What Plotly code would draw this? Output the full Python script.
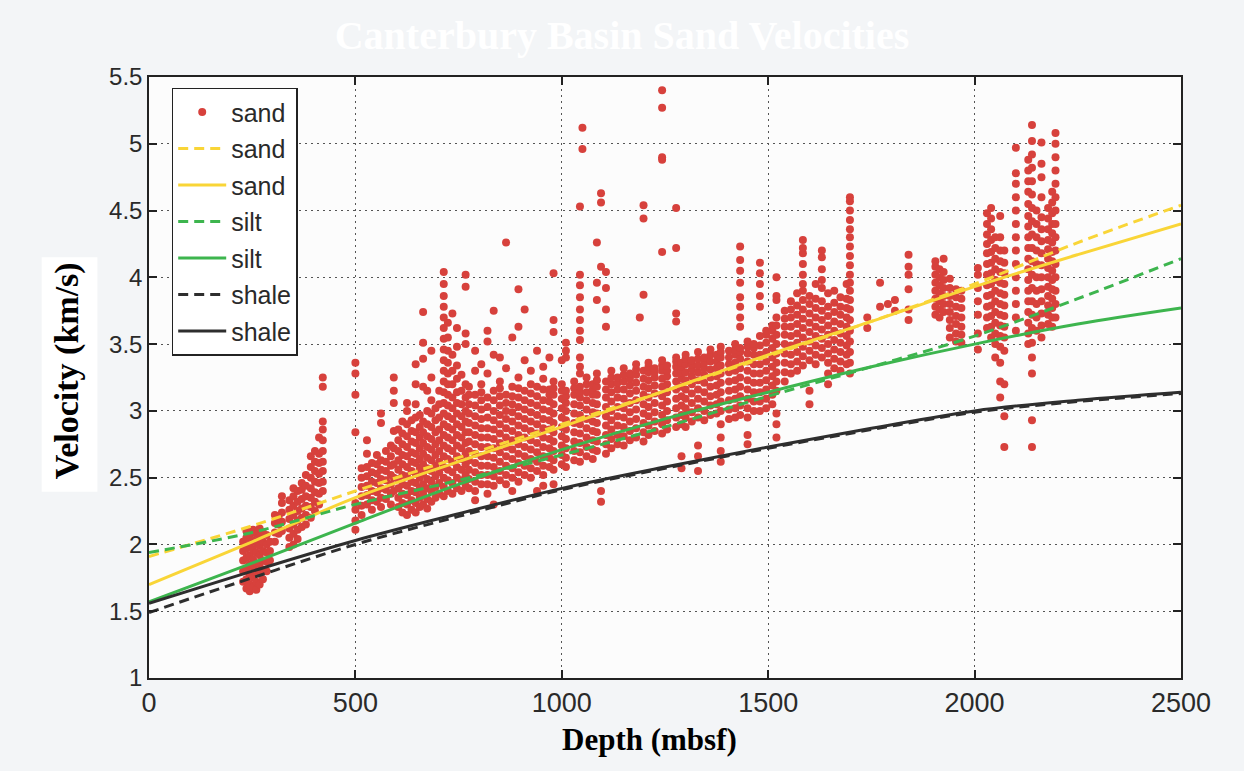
import plotly.graph_objects as go

# ---------------- data ----------------
# sand velocity measurements: (depth mbsf, [velocities km/s]) columns
sand_shallow = [
    (228, [1.72, 1.80, 1.88, 1.95, 2.02]),
    (236, [1.67, 1.74, 1.82, 1.90, 1.97, 2.05, 2.10]),
    (244, [1.65, 1.70, 1.77, 1.85, 1.92, 2.00, 2.07]),
    (252, [1.68, 1.75, 1.83, 1.89, 1.96, 2.03, 2.11]),
    (260, [1.66, 1.72, 1.79, 1.86, 1.94, 2.01, 2.08]),
    (268, [1.70, 1.78, 1.85, 1.92, 1.99, 2.06, 2.12]),
    (276, [1.74, 1.81, 1.88, 1.95, 2.02, 2.09]),
    (285, [1.80, 1.87, 1.94, 2.00, 2.07]),
    (293, [1.88, 1.95, 2.02]),
    (305, [2.02, 2.09, 2.16, 2.22]),
    (314, [2.08, 2.15, 2.21]),
    (322, [2.10, 2.17, 2.24, 2.31, 2.36]),
    (340, [1.98, 2.05, 2.12, 2.19, 2.26, 2.33]),
    (350, [2.00, 2.08, 2.15, 2.22, 2.29, 2.36, 2.42]),
    (360, [2.04, 2.11, 2.18, 2.25, 2.32, 2.40]),
    (370, [2.13, 2.20, 2.27, 2.34, 2.41, 2.46]),
    (380, [2.15, 2.22, 2.29, 2.36, 2.44, 2.52]),
    (392, [2.20, 2.28, 2.35, 2.42, 2.50, 2.58, 2.66]),
    (402, [2.25, 2.32, 2.39, 2.47, 2.55, 2.62, 2.70]),
    (412, [2.30, 2.38, 2.46, 2.53, 2.61, 2.68, 2.80]),
    (421, [2.40, 2.47, 2.55, 2.62, 2.70, 2.78, 2.86, 2.92, 3.18, 3.25]),
    (500, [2.11, 2.18, 2.26, 2.31, 2.84, 3.12, 3.28, 3.36]),
    (515, [2.22, 2.29, 2.36, 2.43, 2.50, 2.57]),
    (528, [2.30, 2.37, 2.44, 2.51, 2.58, 2.68, 2.78]),
    (540, [2.26, 2.33, 2.40, 2.47, 2.54, 2.61]),
    (552, [2.32, 2.39, 2.46, 2.53, 2.60, 2.67]),
    (562, [2.28, 2.35, 2.42, 2.49, 2.56, 2.63, 2.91, 2.98]),
    (574, [2.34, 2.41, 2.48, 2.55, 2.62, 2.70]),
    (586, [2.30, 2.38, 2.45, 2.52, 2.59, 2.66, 2.74]),
    (593, [2.40, 2.50, 2.60, 2.72, 2.85, 3.06, 3.15, 3.25]),
    (604, [2.28, 2.35, 2.42, 2.49, 2.56, 2.63, 2.70, 2.78, 2.86]),
    (614, [2.24, 2.31, 2.38, 2.45, 2.52, 2.60, 2.67, 2.75, 2.83, 2.92]),
    (625, [2.22, 2.30, 2.37, 2.44, 2.51, 2.58, 2.66, 2.73, 2.81, 2.90, 3.00, 3.06]),
    (636, [2.26, 2.33, 2.40, 2.47, 2.55, 2.62, 2.69, 2.77, 2.85, 2.93]),
    (646, [2.24, 2.31, 2.39, 2.46, 2.53, 2.61, 2.68, 2.76, 2.84, 2.95, 3.05, 3.20, 3.35]),
    (656, [2.28, 2.35, 2.42, 2.50, 2.57, 2.64, 2.72, 2.80, 2.88, 2.97]),
    (664, [2.30, 2.38, 2.45, 2.53, 2.60, 2.68, 2.76, 2.84, 2.92, 3.18, 3.39, 3.51, 3.74]),
    (674, [2.27, 2.34, 2.42, 2.49, 2.57, 2.65, 2.73, 2.81, 2.90, 3.00, 3.15]),
    (684, [2.32, 2.40, 2.47, 2.55, 2.63, 2.71, 2.79, 2.88, 2.98, 3.08, 3.25, 3.45]),
    (694, [2.35, 2.43, 2.51, 2.59, 2.67, 2.75, 2.84, 2.93, 3.02]),
    (703, [2.38, 2.46, 2.54, 2.62, 2.70, 2.78, 2.86, 2.95, 3.05, 3.15]),
    (714, [2.36, 2.43, 2.50, 2.58, 2.66, 2.74, 2.82, 2.90, 2.98, 3.06, 3.14, 3.22,
           3.30, 3.38, 3.46, 3.54, 3.62, 3.70, 3.78, 3.86, 3.95, 4.04]),
    (724, [2.40, 2.48, 2.56, 2.64, 2.72, 2.80, 2.88, 2.96, 3.04, 3.12, 3.20, 3.28,
           3.36, 3.45, 3.55, 3.66]),
    (735, [2.38, 2.46, 2.54, 2.62, 2.70, 2.78, 2.86, 2.94, 3.02, 3.10, 3.20, 3.30, 3.42, 3.73]),
    (746, [2.42, 2.50, 2.58, 2.66, 2.74, 2.82, 2.90, 2.98, 3.06, 3.14, 3.24, 3.34, 3.48, 3.62]),
    (757, [2.40, 2.48, 2.56, 2.64, 2.72, 2.80, 2.88, 2.96, 3.05, 3.15, 3.27]),
    (767, [2.44, 2.52, 2.60, 2.68, 2.76, 2.84, 2.92, 3.00, 3.10, 3.20, 3.50, 3.58, 3.93, 4.02]),
]

sand_band = [
    (775, [2.42, 2.49, 2.56, 2.63, 2.70, 2.77, 2.84, 2.91, 2.98, 3.05, 3.12, 3.18]),
    (790, [2.33, 2.40, 2.47, 2.54, 2.61, 2.68, 2.75, 2.82, 2.89, 2.96, 3.04, 3.12, 3.30, 3.45]),
    (805, [2.45, 2.52, 2.59, 2.66, 2.73, 2.80, 2.87, 2.94, 3.01, 3.08, 3.14, 3.20, 3.35]),
    (820, [2.38, 2.45, 2.52, 2.59, 2.66, 2.73, 2.80, 2.87, 2.95, 3.03, 3.10, 3.28, 3.52, 3.60]),
    (835, [2.30, 2.44, 2.51, 2.58, 2.65, 2.72, 2.79, 2.86, 2.93, 3.00, 3.08, 3.15, 3.42, 3.75]),
    (850, [2.48, 2.55, 2.62, 2.69, 2.76, 2.83, 2.90, 2.97, 3.04, 3.11, 3.17, 3.22, 3.40]),
    (865, [2.45, 2.52, 2.59, 2.66, 2.73, 2.80, 2.87, 2.94, 3.00, 3.06, 3.12, 3.32, 4.26]),
    (880, [2.40, 2.50, 2.57, 2.64, 2.71, 2.78, 2.85, 2.92, 2.99, 3.05, 3.11, 3.18, 3.55]),
    (895, [2.47, 2.54, 2.61, 2.68, 2.75, 2.82, 2.89, 2.96, 3.03, 3.10, 3.17, 3.25, 3.63, 3.91]),
    (910, [2.52, 2.59, 2.66, 2.73, 2.80, 2.87, 2.94, 3.01, 3.08, 3.15, 3.38, 3.76]),
    (925, [2.50, 2.57, 2.64, 2.71, 2.78, 2.85, 2.92, 2.99, 3.06, 3.13, 3.20, 3.30]),
    (940, [2.40, 2.55, 2.62, 2.69, 2.76, 2.83, 2.90, 2.97, 3.04, 3.11, 3.18, 3.45]),
    (955, [2.44, 2.52, 2.59, 2.66, 2.73, 2.80, 2.87, 2.94, 3.01, 3.08, 3.16, 3.24, 3.33]),
    (970, [2.58, 2.65, 2.72, 2.79, 2.86, 2.93, 3.00, 3.07, 3.12, 3.16, 3.40]),
    (980, [2.45, 2.56, 2.63, 2.70, 2.77, 2.84, 2.91, 2.98, 3.05, 3.12, 3.17, 3.22, 3.59, 3.68, 4.03]),
    (1000, [2.60, 2.67, 2.74, 2.81, 2.88, 2.95, 3.02, 3.09, 3.15, 3.20, 3.38]),
    (1010, [2.58, 2.65, 2.72, 2.79, 2.86, 2.93, 3.00, 3.06, 3.11, 3.15, 3.40, 3.45, 3.51]),
    (1030, [2.63, 2.70, 2.77, 2.84, 2.91, 2.98, 3.05, 3.12, 3.17, 3.22]),
    (1044, [2.62, 2.69, 2.76, 2.83, 2.90, 2.97, 3.04, 3.10, 3.14, 3.18, 3.28, 3.33, 3.40,
            3.53, 3.60, 3.68, 3.76, 3.85, 3.94, 4.02, 4.53]),
    (1050, [4.96, 5.12]),
    (1060, [2.66, 2.73, 2.80, 2.87, 2.94, 3.01, 3.08, 3.14, 3.20, 3.25]),
    (1075, [2.64, 2.71, 2.78, 2.85, 2.92, 2.99, 3.06, 3.12, 3.16, 3.20]),
    (1085, [2.70, 2.77, 2.84, 2.91, 2.98, 3.05, 3.12, 3.18, 3.23, 3.28, 3.83, 3.96, 4.26]),
    (1095, [2.32, 2.40, 4.08, 4.56, 4.63]),
    (1107, [2.68, 2.75, 2.82, 2.89, 2.96, 3.03, 3.10, 3.16, 3.22, 3.63, 3.76, 3.92, 4.04]),
    (1120, [2.72, 2.79, 2.86, 2.93, 3.00, 3.07, 3.14, 3.20, 3.25, 3.30]),
    (1135, [2.75, 2.82, 2.89, 2.96, 3.03, 3.10, 3.16, 3.21, 3.25]),
    (1150, [2.74, 2.81, 2.88, 2.95, 3.02, 3.09, 3.16, 3.22, 3.27, 3.32]),
    (1165, [2.78, 2.85, 2.92, 2.99, 3.06, 3.13, 3.19, 3.24, 3.28]),
    (1180, [2.80, 2.87, 2.94, 3.01, 3.08, 3.15, 3.21, 3.27, 3.31, 3.35]),
    (1189, [3.70]),
    (1198, [2.77, 2.84, 2.91, 2.98, 3.05, 3.12, 3.18, 3.24, 3.30, 3.87, 4.44, 4.54]),
    (1210, [2.82, 2.89, 2.96, 3.03, 3.10, 3.17, 3.23, 3.29, 3.33, 3.36]),
    (1225, [2.85, 2.92, 2.99, 3.06, 3.13, 3.19, 3.25, 3.29, 3.32]),
    (1243, [2.83, 2.90, 2.97, 3.04, 3.11, 3.18, 3.24, 3.30, 3.34, 3.38, 4.19, 4.88, 4.90, 5.27, 5.40]),
    (1255, [2.86, 2.93, 3.00, 3.07, 3.14, 3.20, 3.26, 3.30, 3.34]),
    (1277, [2.88, 2.95, 3.02, 3.09, 3.16, 3.22, 3.28, 3.33, 3.37, 3.40, 3.67, 3.73, 4.22, 4.52]),
    (1290, [2.57, 2.66, 2.90, 2.97, 3.04, 3.11, 3.18, 3.24, 3.29, 3.33, 3.36]),
    (1300, [2.88, 2.95, 3.02, 3.09, 3.16, 3.23, 3.29, 3.35, 3.39, 3.42]),
    (1315, [2.92, 2.99, 3.06, 3.13, 3.20, 3.26, 3.31, 3.35, 3.38]),
    (1330, [2.55, 2.66, 2.74, 2.95, 3.02, 3.09, 3.16, 3.23, 3.29, 3.34, 3.39, 3.44]),
    (1345, [2.93, 3.00, 3.07, 3.14, 3.21, 3.27, 3.32, 3.36, 3.40]),
    (1360, [2.97, 3.04, 3.11, 3.18, 3.25, 3.31, 3.37, 3.42, 3.46]),
    (1375, [2.98, 3.05, 3.12, 3.19, 3.26, 3.32, 3.37, 3.42]),
    (1385, [2.62, 2.70, 2.80, 2.90, 3.00, 3.07, 3.14, 3.21, 3.28, 3.34, 3.40, 3.44, 3.48]),
    (1405, [2.94, 3.01, 3.08, 3.15, 3.22, 3.29, 3.35, 3.40, 3.45]),
    (1420, [2.95, 3.02, 3.09, 3.16, 3.23, 3.30, 3.36, 3.42, 3.46, 3.50]),
    (1432, [2.97, 3.04, 3.11, 3.18, 3.25, 3.32, 3.39, 3.44, 3.47, 3.63, 3.70, 3.78,
            3.85, 3.96, 4.05, 4.13, 4.23]),
    (1450, [2.75, 2.82, 2.95, 3.02, 3.09, 3.16, 3.23, 3.30, 3.37, 3.43, 3.48, 3.52]),
    (1465, [3.00, 3.07, 3.14, 3.21, 3.28, 3.35, 3.42, 3.47, 3.50]),
    (1480, [3.00, 3.07, 3.14, 3.21, 3.28, 3.35, 3.42, 3.49, 3.56, 3.78, 3.86, 3.95, 4.03, 4.11]),
    (1495, [3.02, 3.09, 3.16, 3.23, 3.30, 3.37, 3.44, 3.51, 3.57, 3.60]),
    (1510, [3.05, 3.12, 3.19, 3.26, 3.33, 3.40, 3.47, 3.54, 3.60, 3.64]),
    (1520, [2.80, 2.90, 2.98, 3.15, 3.22, 3.29, 3.36, 3.43, 3.50, 3.57, 3.64, 3.70,
            3.83, 3.86, 4.00]),
    (1540, [3.22, 3.29, 3.36, 3.43, 3.50, 3.57, 3.63, 3.69, 3.75]),
    (1555, [3.28, 3.35, 3.42, 3.49, 3.56, 3.63, 3.70, 3.76, 3.82]),
    (1570, [3.30, 3.37, 3.44, 3.51, 3.58, 3.65, 3.72, 3.79, 3.88]),
    (1584, [3.34, 3.41, 3.48, 3.55, 3.62, 3.69, 3.76, 3.83, 3.90, 3.95, 4.02, 4.10, 4.18, 4.22, 4.28]),
    (1600, [3.05, 3.15, 3.38, 3.45, 3.52, 3.59, 3.66, 3.73, 3.80, 3.86]),
    (1615, [3.35, 3.42, 3.49, 3.56, 3.63, 3.70, 3.77, 3.84, 3.95]),
    (1630, [3.40, 3.47, 3.54, 3.61, 3.68, 3.75, 3.82, 3.92, 3.98, 4.06, 4.15, 4.20]),
    (1645, [3.20, 3.28, 3.36, 3.43, 3.50, 3.57, 3.64, 3.71, 3.78, 3.88]),
    (1660, [3.32, 3.39, 3.46, 3.53, 3.60, 3.67, 3.74, 3.81, 3.90]),
    (1675, [3.30, 3.37, 3.44, 3.51, 3.58, 3.65, 3.72, 3.78, 3.85]),
    (1690, [3.35, 3.42, 3.49, 3.56, 3.63, 3.70, 3.77, 3.84, 3.95]),
    (1698, [3.28, 3.36, 3.44, 3.52, 3.60, 3.68, 3.76, 3.83, 3.90, 3.96, 4.02, 4.09,
            4.16, 4.23, 4.30, 4.36, 4.43, 4.50, 4.57, 4.60]),
    (1740, [3.62, 3.70]),
    (1771, [3.78, 3.96]),
    (1790, [3.80]),
    (1807, [3.75, 3.83]),
]

sand_deep = [
    (1840, [3.68, 3.76, 3.91, 4.02, 4.08, 4.17]),
    (1905, [3.72, 3.78, 3.84, 3.90, 3.96, 4.02, 4.08, 4.12]),
    (1915, [3.70, 3.76, 3.82, 3.88, 3.94, 4.00, 4.06]),
    (1925, [3.74, 3.80, 3.86, 3.92, 3.98, 4.04, 4.14]),
    (1940, [3.55, 3.62, 3.68, 3.74, 3.80, 3.86, 3.92, 3.99]),
    (1955, [3.52, 3.58, 3.65, 3.71, 3.78, 3.85, 3.91]),
    (1968, [3.51, 3.57, 3.63, 3.70, 3.77, 3.84, 3.90]),
    (2008, [3.46, 3.58, 3.72, 3.82, 3.92, 4.02, 4.07]),
    (2030, [3.62, 3.70, 3.78, 3.86, 3.94, 4.02, 4.10, 4.18, 4.25, 4.32, 4.40, 4.48]),
    (2040, [3.55, 3.63, 3.71, 3.79, 3.87, 3.95, 4.03, 4.11, 4.19, 4.28, 4.36, 4.44, 4.52]),
    (2050, [3.40, 3.50, 3.58, 3.66, 3.74, 3.82, 3.90, 3.98, 4.06, 4.14, 4.22, 4.30]),
    (2062, [3.10, 3.22, 3.36, 3.48, 3.56, 3.64, 3.72, 3.80, 3.88, 3.96, 4.04, 4.12,
            4.20, 4.30, 4.46]),
    (2072, [2.73, 2.96, 3.20, 3.45, 3.55, 3.63, 3.71, 3.79, 3.87, 3.95, 4.03, 4.11, 4.20]),
    (2100, [3.60, 3.70, 3.80, 3.90, 4.00, 4.10, 4.20, 4.30, 4.40, 4.50, 4.60, 4.70,
            4.78, 4.97]),
    (2130, [3.50, 3.58, 3.66, 3.74, 3.82, 3.90, 3.98, 4.06, 4.14, 4.22, 4.30, 4.38,
            4.46, 4.55, 4.64, 4.72, 4.80, 4.88]),
    (2139, [2.73, 2.93, 3.28, 3.40, 3.51, 3.62, 3.72, 3.82, 3.92, 4.02, 4.12, 4.22,
            4.32, 4.42, 4.52, 4.62, 4.72, 4.82, 4.92, 5.02, 5.14]),
    (2150, [3.60, 3.70, 3.80, 3.90, 4.00, 4.10, 4.20, 4.30, 4.40, 4.50]),
    (2162, [3.55, 3.64, 3.73, 3.82, 3.91, 4.00, 4.09, 4.18, 4.27, 4.36, 4.45, 4.60,
            4.75, 4.85, 5.01]),
    (2178, [3.65, 3.72, 3.79, 3.86, 3.93, 4.00, 4.07, 4.14, 4.21, 4.28, 4.36, 4.44, 4.52]),
    (2188, [3.63, 3.70, 3.77, 3.84, 3.91, 3.98, 4.05, 4.12, 4.19, 4.26, 4.33, 4.40,
            4.48, 4.56, 4.64]),
    (2196, [3.70, 3.80, 3.90, 4.00, 4.10, 4.20, 4.30, 4.40, 4.50, 4.60, 4.70, 4.80,
            4.90, 5.00, 5.08]),
]

# trend curves (depth, velocity)
line_depth = [0, 250, 500, 750, 1000, 1250, 1500, 1750, 2000, 2250, 2500]
sand_fit_dashed = [1.91, 2.14, 2.40, 2.65, 2.90, 3.15, 3.41, 3.67, 3.95, 4.26, 4.54]
sand_fit_solid = [1.70, 2.02, 2.35, 2.62, 2.88, 3.15, 3.42, 3.67, 3.93, 4.17, 4.40]
silt_fit_dashed = [1.94, 2.09, 2.30, 2.48, 2.67, 2.88, 3.11, 3.33, 3.56, 3.84, 4.14]
silt_fit_solid = [1.57, 1.86, 2.16, 2.45, 2.71, 2.94, 3.14, 3.33, 3.50, 3.65, 3.77]
shale_fit_dashed = [1.49, 1.75, 2.00, 2.21, 2.41, 2.57, 2.72, 2.86, 2.99, 3.07, 3.13]
shale_fit_solid = [1.56, 1.80, 2.03, 2.23, 2.42, 2.58, 2.73, 2.87, 3.00, 3.08, 3.14]

x_ticks = [0, 500, 1000, 1500, 2000, 2500]
y_ticks = [1, 1.5, 2, 2.5, 3, 3.5, 4, 4.5, 5, 5.5]
y_tick_labels = ["1", "1.5", "2", "2.5", "3", "3.5", "4", "4.5", "5", "5.5"]

# ---------------- figure ----------------
RED = "#d7413c"
YELLOW = "#f9d537"
GREEN = "#3db54e"
BLACK = "#2e2e2e"
PAPER = "#f3f5f7"

dots_x, dots_y = [], []
for group in (sand_shallow, sand_band, sand_deep):
    for d, vs in group:
        for v in vs:
            dots_x.append(d)
            dots_y.append(v)

fig = go.Figure()
fig.add_trace(go.Scatter(
    x=dots_x, y=dots_y, mode="markers", name="sand", legendgroup="g0",
    marker=dict(color=RED, size=8, line=dict(width=0)),
))

lines = [
    ("sand", sand_fit_dashed, YELLOW, "10px,6px"),
    ("sand", sand_fit_solid, YELLOW, "solid"),
    ("silt", silt_fit_dashed, GREEN, "10px,6px"),
    ("silt", silt_fit_solid, GREEN, "solid"),
    ("shale", shale_fit_dashed, BLACK, "10px,6px"),
    ("shale", shale_fit_solid, BLACK, "solid"),
]
for i, (nm, vals, col, dash) in enumerate(lines):
    fig.add_trace(go.Scatter(
        x=line_depth, y=vals, mode="lines", name=nm, legendgroup=f"g{i+1}",
        line=dict(color=col, width=3, dash=dash, shape="spline"),
    ))

axis_common = dict(
    showline=True, linecolor="#222", linewidth=1.5, mirror="ticks",
    ticks="inside", ticklen=8, tickwidth=1.5, tickcolor="#222",
    showgrid=True, gridcolor="#555", gridwidth=1, griddash="2px,4px",
    zeroline=False,
    tickfont=dict(family="Liberation Sans, Arial, sans-serif", size=24, color="#2a2a2a"),
)

fig.update_xaxes(range=[0, 2500], tickvals=x_ticks, **axis_common)
fig.update_yaxes(range=[1, 5.5], tickvals=y_ticks, ticktext=y_tick_labels, **axis_common)
fig.update_xaxes(tickfont=dict(family="Liberation Sans Narrow, Liberation Sans, Arial",
                               size=27, color="#2a2a2a"))

fig.update_layout(
    width=1244, height=771,
    margin=dict(l=149, r=63, t=77, b=93),
    paper_bgcolor=PAPER,
    plot_bgcolor="#fcfcfc",
    showlegend=True,
    legend=dict(
        x=0.022, y=0.982, xanchor="left", yanchor="top",
        bgcolor="#ffffff", bordercolor="#222", borderwidth=1.5,
        font=dict(family="Liberation Sans, Arial, sans-serif", size=25, color="#2a2a2a"),
        tracegroupgap=1, itemwidth=48,
    ),
    title=dict(
        text="<b>Canterbury Basin Sand Velocities</b>",
        x=0.5, xanchor="center", y=0.955, yanchor="middle",
        font=dict(family="Liberation Serif, Times New Roman, serif", size=40, color="#ffffff"),
    ),
    shapes=[
        dict(type="rect", xref="paper", yref="paper",
             x0=-0.104, x1=-0.05, y0=0.31, y1=0.70,
             fillcolor="#ffffff", line=dict(width=0), layer="below"),
    ],
    annotations=[
        dict(text="<b>Velocity (km/s)</b>", textangle=-90, xref="paper", yref="paper",
             x=-0.0795, y=0.512, showarrow=False, xanchor="center", yanchor="middle",
             font=dict(family="Liberation Serif, Times New Roman, serif", size=34, color="#000")),
        dict(text="<b>Depth (mbsf)</b>", xref="paper", yref="paper",
             x=0.485, y=-0.103, showarrow=False, xanchor="center", yanchor="middle",
             font=dict(family="Liberation Serif, Times New Roman, serif", size=31, color="#000")),
    ],
)

fig.write_html(
    "out.html",
    config={"displayModeBar": False},
    post_script="document.body.style.margin='0';document.body.style.background='%s';" % PAPER,
)
